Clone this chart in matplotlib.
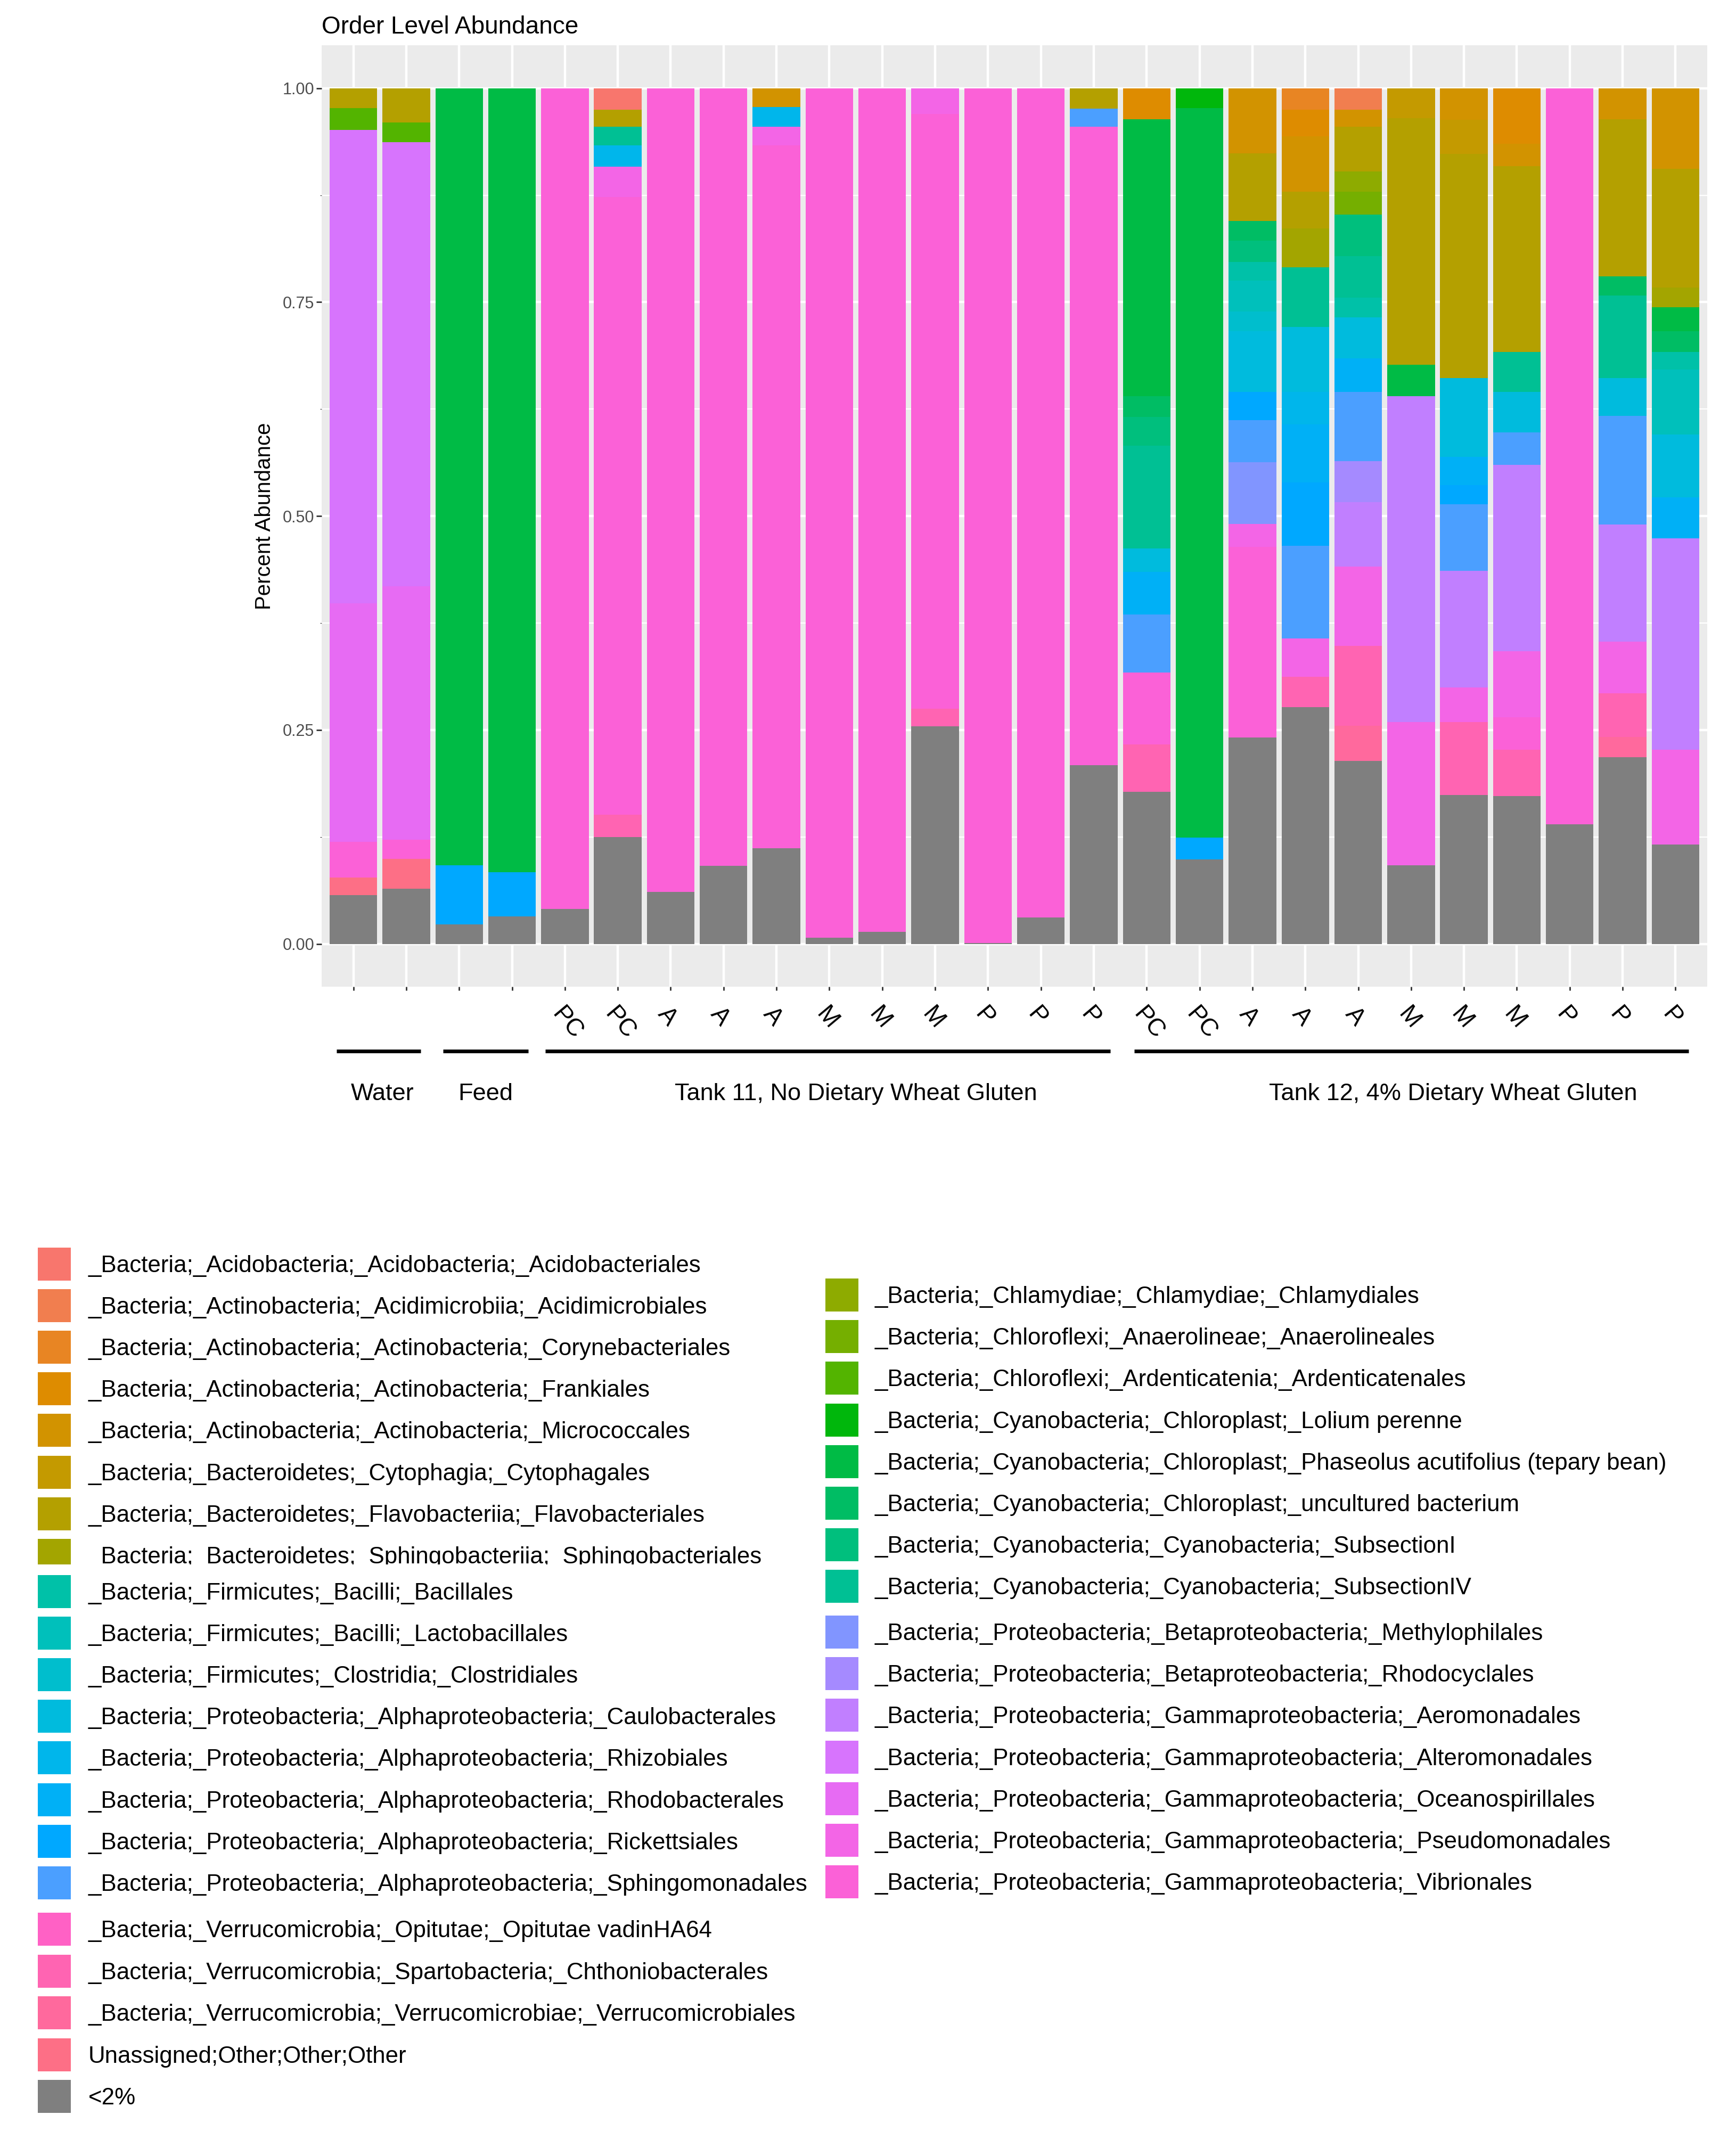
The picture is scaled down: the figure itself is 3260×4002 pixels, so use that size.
import numpy as np
import matplotlib
matplotlib.use('Agg')
import matplotlib.pyplot as plt
from matplotlib.patches import Rectangle
from matplotlib.transforms import Bbox, blended_transform_factory

plt.rcParams['font.family'] = ['Liberation Sans', 'DejaVu Sans']

# taxa, in factor order (first level sits on top of every bar)
taxa = [
    '_Bacteria;_Acidobacteria;_Acidobacteria;_Acidobacteriales',
    '_Bacteria;_Actinobacteria;_Acidimicrobiia;_Acidimicrobiales',
    '_Bacteria;_Actinobacteria;_Actinobacteria;_Corynebacteriales',
    '_Bacteria;_Actinobacteria;_Actinobacteria;_Frankiales',
    '_Bacteria;_Actinobacteria;_Actinobacteria;_Micrococcales',
    '_Bacteria;_Bacteroidetes;_Cytophagia;_Cytophagales',
    '_Bacteria;_Bacteroidetes;_Flavobacteriia;_Flavobacteriales',
    '_Bacteria;_Bacteroidetes;_Sphingobacteriia;_Sphingobacteriales',
    '_Bacteria;_Chlamydiae;_Chlamydiae;_Chlamydiales',
    '_Bacteria;_Chloroflexi;_Anaerolineae;_Anaerolineales',
    '_Bacteria;_Chloroflexi;_Ardenticatenia;_Ardenticatenales',
    '_Bacteria;_Cyanobacteria;_Chloroplast;_Lolium perenne',
    '_Bacteria;_Cyanobacteria;_Chloroplast;_Phaseolus acutifolius (tepary bean)',
    '_Bacteria;_Cyanobacteria;_Chloroplast;_uncultured bacterium',
    '_Bacteria;_Cyanobacteria;_Cyanobacteria;_SubsectionI',
    '_Bacteria;_Cyanobacteria;_Cyanobacteria;_SubsectionIV',
    '_Bacteria;_Firmicutes;_Bacilli;_Bacillales',
    '_Bacteria;_Firmicutes;_Bacilli;_Lactobacillales',
    '_Bacteria;_Firmicutes;_Clostridia;_Clostridiales',
    '_Bacteria;_Proteobacteria;_Alphaproteobacteria;_Caulobacterales',
    '_Bacteria;_Proteobacteria;_Alphaproteobacteria;_Rhizobiales',
    '_Bacteria;_Proteobacteria;_Alphaproteobacteria;_Rhodobacterales',
    '_Bacteria;_Proteobacteria;_Alphaproteobacteria;_Rickettsiales',
    '_Bacteria;_Proteobacteria;_Alphaproteobacteria;_Sphingomonadales',
    '_Bacteria;_Proteobacteria;_Betaproteobacteria;_Methylophilales',
    '_Bacteria;_Proteobacteria;_Betaproteobacteria;_Rhodocyclales',
    '_Bacteria;_Proteobacteria;_Gammaproteobacteria;_Aeromonadales',
    '_Bacteria;_Proteobacteria;_Gammaproteobacteria;_Alteromonadales',
    '_Bacteria;_Proteobacteria;_Gammaproteobacteria;_Oceanospirillales',
    '_Bacteria;_Proteobacteria;_Gammaproteobacteria;_Pseudomonadales',
    '_Bacteria;_Proteobacteria;_Gammaproteobacteria;_Vibrionales',
    '_Bacteria;_Verrucomicrobia;_Opitutae;_Opitutae vadinHA64',
    '_Bacteria;_Verrucomicrobia;_Spartobacteria;_Chthoniobacterales',
    '_Bacteria;_Verrucomicrobia;_Verrucomicrobiae;_Verrucomicrobiales',
    'Unassigned;Other;Other;Other',
    '<2%',
]
OTHER = 35  # '<2%'

tick_labels = ['', '', '', '',
               'PC', 'PC', 'A', 'A', 'A', 'M', 'M', 'M', 'P', 'P', 'P',
               'PC', 'PC', 'A', 'A', 'A', 'M', 'M', 'M', 'P', 'P', 'P']

groups = ['Water', 'Feed', 'Tank 11, No Dietary Wheat Gluten', 'Tank 12, 4% Dietary Wheat Gluten']

# relative abundance per sample  {taxon index: fraction}
water_1 = {6: .023, 10: .026, 27: .553, 28: .279, 30: .0415, 34: .0205, OTHER: .057}
water_2 = {6: .040, 10: .023, 27: .519, 28: .296, 30: .0225, 34: .035, OTHER: .0645}
feed_1 = {12: .908, 22: .069, OTHER: .023}
feed_2 = {12: .916, 22: .052, OTHER: .032}
t11_pc1 = {30: .959, OTHER: .041}
t11_pc2 = {0: .025, 6: .020, 15: .022, 20: .025, 29: .035, 30: .722, 32: .026, OTHER: .125}
t11_a1 = {30: .939, OTHER: .061}
t11_a2 = {30: .909, OTHER: .091}
t11_a3 = {4: .022, 20: .023, 29: .022, 30: .821, OTHER: .112}
t11_m1 = {30: .993, OTHER: .007}
t11_m2 = {30: .986, OTHER: .014}
t11_m3 = {29: .030, 30: .695, 32: .021, OTHER: .254}
t11_p1 = {30: .999, OTHER: .001}
t11_p2 = {30: .969, OTHER: .031}
t11_p3 = {6: .024, 23: .021, 30: .746, OTHER: .209}
t12_pc1 = {3: .036, 12: .324, 13: .024, 14: .034, 15: .120, 19: .027, 21: .050,
           23: .068, 30: .084, 32: .055, OTHER: .178}
t12_pc2 = {11: .023, 12: .853, 22: .025, OTHER: .099}
t12_a1 = {4: .076, 6: .079, 13: .023, 14: .025, 16: .022, 17: .036, 18: .023, 19: .071,
          22: .033, 23: .049, 24: .072, 29: .027, 30: .223, OTHER: .241}
t12_a2 = {2: .025, 3: .031, 4: .065, 6: .043, 7: .045, 15: .070, 19: .076, 20: .038,
          21: .068, 22: .074, 23: .108, 29: .045, 32: .035, OTHER: .277}
t12_a3 = {1: .025, 4: .020, 6: .052, 8: .024, 9: .027, 14: .048, 15: .049, 16: .023,
          19: .048, 21: .039, 23: .081, 25: .048, 26: .075, 29: .093, 32: .093, 33: .041,
          OTHER: .214}
t12_m1 = {5: .035, 6: .288, 12: .037, 26: .381, 29: .167, OTHER: .092}
t12_m2 = {4: .037, 5: .040, 6: .262, 19: .092, 21: .033, 22: .022, 23: .078, 26: .136,
          29: .041, 32: .085, OTHER: .174}
t12_m3 = {3: .065, 4: .026, 6: .217, 15: .047, 19: .047, 23: .038, 26: .218, 29: .077,
          30: .038, 32: .054, OTHER: .173}
t12_p1 = {30: .860, OTHER: .140}
t12_p2 = {4: .036, 6: .184, 13: .022, 15: .097, 19: .044, 23: .127, 26: .137, 29: .060,
          32: .051, 33: .024, OTHER: .218}
t12_p3 = {4: .094, 6: .139, 7: .023, 12: .028, 13: .024, 16: .021, 17: .076, 19: .073,
          21: .048, 26: .247, 29: .111, OTHER: .116}

samples = [water_1, water_2, feed_1, feed_2,
           t11_pc1, t11_pc2, t11_a1, t11_a2, t11_a3, t11_m1, t11_m2, t11_m3, t11_p1, t11_p2, t11_p3,
           t12_pc1, t12_pc2, t12_a1, t12_a2, t12_a3, t12_m1, t12_m2, t12_m3, t12_p1, t12_p2, t12_p3]


def hcl(h, c=100.0, l=65.0):
    # polar Luv -> sRGB, same as R's hcl() used by ggplot's hue palette
    hr = np.deg2rad(h)
    U, V = c * np.cos(hr), c * np.sin(hr)
    Xn, Yn, Zn = 95.047, 100.0, 108.883
    un = 4 * Xn / (Xn + 15 * Yn + 3 * Zn)
    vn = 9 * Yn / (Xn + 15 * Yn + 3 * Zn)
    Y = Yn * ((l + 16) / 116) ** 3
    u = U / (13 * l) + un
    v = V / (13 * l) + vn
    X = Y * 9 * u / (4 * v)
    Z = Y * (12 - 3 * u - 20 * v) / (4 * v)
    M = np.array([[3.240479, -1.537150, -0.498535],
                  [-0.969256, 1.875992, 0.041556],
                  [0.055648, -0.204043, 1.057311]])
    rgb = M @ np.array([X, Y, Z]) / 100
    rgb = np.where(rgb <= 0.0031308, 12.92 * rgb, 1.055 * np.abs(rgb) ** (1 / 2.4) - 0.055)
    return tuple(np.clip(rgb, 0, 1))


n_hue = len(taxa) - 1
colors = [hcl(15 + 360 * i / n_hue) for i in range(n_hue)] + ['#7F7F7F']

ab = np.zeros((len(taxa), len(samples)))
for j, s in enumerate(samples):
    for k, v in s.items():
        ab[k, j] = v

W, H = 3260, 4002
fig = plt.figure(figsize=(W / 100, H / 100), dpi=100)


def fx(px):
    return px / W


def fy(py):
    return 1 - py / H


ax = fig.add_axes([fx(604), fy(1853), (3206 - 604) / W, (1853 - 85.3) / H])
x = np.arange(len(samples))
bottom = np.zeros(len(samples))
for k in range(len(taxa) - 1, -1, -1):
    ax.bar(x, ab[k], bottom=bottom, width=0.9, color=colors[k], linewidth=0, zorder=2)
    bottom += ab[k]

ax.set_facecolor('#EBEBEB')
ax.set_xlim(-0.6, len(samples) - 0.4)
ax.set_ylim(-0.05, 1.05)
ax.set_yticks([0, .25, .5, .75, 1.0])
ax.set_yticklabels(['0.00', '0.25', '0.50', '0.75', '1.00'])
ax.set_yticks([.125, .375, .625, .875], minor=True)
ax.grid(which='major', color='white', linewidth=3.2, zorder=0)
ax.grid(which='minor', axis='y', color='white', linewidth=1.6, zorder=0)
ax.set_axisbelow(True)
for sp in ax.spines.values():
    sp.set_visible(False)
ax.set_xticks(x)
ax.set_xticklabels(tick_labels, rotation=-50, ha='left', va='top', rotation_mode='anchor', fontsize=33)
ax.tick_params(axis='y', length=7, width=2, color='#333333', labelsize=22, labelcolor='#4D4D4D', pad=3)
ax.tick_params(axis='x', length=5, width=2, color='#333333', pad=17)

fig.text(fx(497), fy(969), 'Percent Abundance', rotation=90, ha='center', va='center', fontsize=29)
fig.text(fx(604), fy(63), 'Order Level Abundance', ha='left', va='baseline', fontsize=33)

# group brackets under the x axis
tr = blended_transform_factory(ax.transData, ax.transAxes)
line_y = -(1974 - 1853) / (1853 - 85.3)
text_y = -(2066 - 1853) / (1853 - 85.3)
brackets = [(-0.32, 1.27), (1.70, 3.31), (3.63, 14.31), (14.77, 25.25)]
label_x = [0.55, 2.50, 9.50, 20.79]
for (a, b), lx, g in zip(brackets, label_x, groups):
    ax.plot([a, b], [line_y, line_y], color='black', linewidth=5, transform=tr,
            clip_on=False, solid_capstyle='butt')
    ax.text(lx, text_y, g, transform=tr, ha='center', va='baseline', fontsize=32.5)

# legend, pasted in pieces as in the figure
legend_fs = 31.6
left_rows = ([(i, 2374 + 78.1 * n) for n, i in enumerate(range(0, 8))] +
             [(i, 2989 + 78.1 * n) for n, i in enumerate(range(16, 24))] +
             [(i, 3623 + 78.5 * n) for n, i in enumerate(range(31, 36))])
right_rows = ([(i, 2432 + 78.2 * n) for n, i in enumerate(range(8, 16))] +
              [(i, 3065 + 78.2 * n) for n, i in enumerate(range(24, 31))])
cut = Bbox.from_extents(0, H - 2938, W, H)


def legend_row(idx, yc, sx, tx, clip=None):
    sw = Rectangle((fx(sx), fy(yc + 31)), 62 / W, 62 / H, transform=fig.transFigure,
                   facecolor=colors[idx], edgecolor='none')
    fig.add_artist(sw)
    t = fig.text(fx(tx), fy(yc + 15), taxa[idx], ha='left', va='baseline', fontsize=legend_fs)
    if clip is not None:
        sw.set_clip_box(clip)
        sw.set_clip_on(True)
        t.set_clip_box(clip)
        t.set_clip_on(True)


for n, (idx, yc) in enumerate(left_rows):
    legend_row(idx, yc, 71, 166, cut if n < 8 else None)
for idx, yc in right_rows:
    legend_row(idx, yc, 1550, 1643)

fig.savefig('out.png', dpi=100)
